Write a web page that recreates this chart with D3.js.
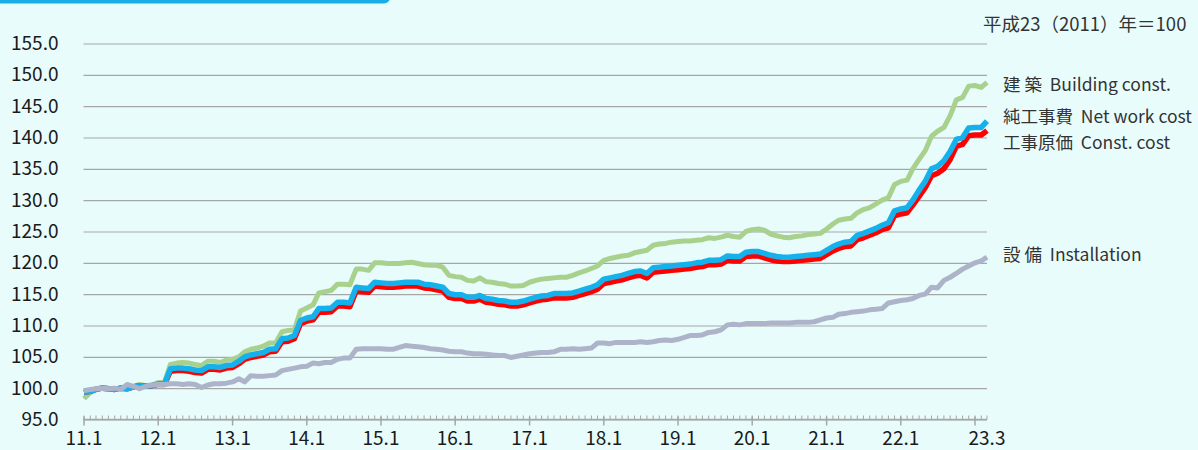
<!DOCTYPE html>
<html>
<head>
<meta charset="utf-8">
<script src="https://cdn.jsdelivr.net/npm/d3@7"></script>
<style>
  body { margin: 0; background: #e8fcfc; }
  svg { display: block; }
  text { font-family: "Noto Sans CJK JP", "Noto Sans", sans-serif; }
</style>
</head>
<body>
<div id="chart-area"></div>
<script>
// monthly index, 2011.1 - 2023.3 (平成23（2011）年＝100)
var startMonth = new Date(2011, 0, 1);

var building = [ // 建築
  98.3, 99.3, 99.9, 100.1, 100.0, 99.8, 100.1, 99.9, 100.3, 100.6, 100.4, 100.5,
  100.9, 100.9, 103.8, 104.0, 104.1, 104.0, 103.8, 103.6, 104.3, 104.3, 104.1, 104.5,
  104.6, 105.0, 105.8, 106.2, 106.4, 106.7, 107.2, 107.2, 109.0, 109.2, 109.3, 112.3,
  112.8, 113.3, 115.2, 115.4, 115.6, 116.6, 116.6, 116.5, 119.0, 119.0, 118.8, 120.0,
  120.0, 119.9, 119.9, 119.9, 120.0, 120.1, 119.9, 119.7, 119.6, 119.6, 119.3, 118.0,
  117.8, 117.7, 117.2, 117.1, 117.6, 117.0, 116.9, 116.7, 116.6, 116.3, 116.3, 116.4,
  116.9, 117.2, 117.4, 117.5, 117.6, 117.7, 117.7, 118.0, 118.4, 118.7, 119.1, 119.5,
  120.4, 120.7, 120.9, 121.1, 121.2, 121.6, 121.8, 122.0, 122.8, 123.0, 123.1, 123.3,
  123.4, 123.5, 123.5, 123.6, 123.7, 124.0, 123.9, 124.1, 124.4, 124.2, 124.1, 125.0,
  125.3, 125.4, 125.2, 124.6, 124.3, 124.1, 124.0, 124.2, 124.3, 124.5, 124.6, 124.7,
  125.4, 126.2, 126.8, 127.0, 127.1, 128.0, 128.5, 128.8, 129.4, 130.0, 130.4, 132.5,
  133.0, 133.2, 135.0, 136.5, 137.9, 140.2, 141.0, 141.6, 143.5, 146.0, 146.4, 148.2,
  148.3, 148.0, 148.8
];

var netWork = [ // 純工事費
  99.3, 99.5, 99.8, 100.0, 99.9, 99.8, 100.0, 99.9, 100.2, 100.4, 100.3, 100.4,
  100.7, 100.7, 103.1, 103.2, 103.2, 103.1, 102.9, 102.8, 103.4, 103.4, 103.3, 103.6,
  103.7, 104.3, 105.0, 105.3, 105.5, 105.7, 106.2, 106.3, 107.9, 108.0, 108.4, 110.8,
  111.2, 111.4, 112.7, 112.7, 112.8, 113.7, 113.7, 113.6, 116.1, 116.0, 115.9, 116.9,
  116.8, 116.7, 116.7, 116.8, 116.9, 116.9, 116.9, 116.6, 116.5, 116.3, 116.1, 115.1,
  114.9, 114.9, 114.5, 114.5, 114.8, 114.3, 114.2, 114.0, 113.9, 113.7, 113.7, 113.9,
  114.2, 114.5, 114.7, 114.8, 115.1, 115.1, 115.1, 115.2, 115.5, 115.8, 116.1, 116.5,
  117.4, 117.6, 117.8, 118.0, 118.3, 118.6, 118.7, 118.3, 119.2, 119.3, 119.4, 119.5,
  119.6, 119.7, 119.8, 120.0, 120.1, 120.4, 120.4, 120.5, 121.1, 121.0, 121.0, 121.7,
  121.8, 121.8, 121.5, 121.2, 121.0, 120.9, 120.9, 121.0, 121.1, 121.2, 121.3, 121.4,
  122.0, 122.6, 123.0, 123.3, 123.4, 124.4, 124.7, 125.1, 125.5, 126.0, 126.4, 128.3,
  128.6, 128.8, 130.0, 131.6, 133.0, 135.0, 135.4, 136.3, 137.8, 139.7, 140.0, 141.5,
  141.6, 141.6, 142.6
];

var constCost = [ // 工事原価
  99.3, 99.5, 99.8, 100.0, 99.9, 99.8, 100.0, 99.9, 100.2, 100.4, 100.3, 100.4,
  100.6, 100.6, 102.7, 102.8, 102.8, 102.7, 102.5, 102.4, 103.0, 103.0, 102.9, 103.2,
  103.3, 103.9, 104.6, 104.9, 105.1, 105.3, 105.8, 105.9, 107.4, 107.5, 107.9, 110.3,
  110.7, 110.9, 112.1, 112.1, 112.2, 113.1, 113.1, 113.0, 115.5, 115.4, 115.3, 116.3,
  116.2, 116.1, 116.1, 116.2, 116.3, 116.3, 116.3, 116.0, 115.9, 115.7, 115.5, 114.5,
  114.3, 114.3, 113.9, 113.9, 114.2, 113.7, 113.6, 113.4, 113.3, 113.1, 113.1, 113.3,
  113.6, 113.9, 114.1, 114.2, 114.4, 114.4, 114.4, 114.5, 114.8, 115.1, 115.4, 115.8,
  116.7, 116.9, 117.1, 117.3, 117.6, 117.9, 118.0, 117.6, 118.5, 118.6, 118.7, 118.8,
  118.9, 119.0, 119.1, 119.3, 119.4, 119.7, 119.7, 119.8, 120.4, 120.3, 120.3, 121.0,
  121.1, 121.1, 120.8, 120.5, 120.3, 120.2, 120.2, 120.3, 120.4, 120.5, 120.6, 120.7,
  121.3, 121.9, 122.3, 122.6, 122.7, 123.7, 124.0, 124.4, 124.8, 125.3, 125.6, 127.5,
  127.8, 128.0, 129.2, 130.6, 132.0, 133.9, 134.3, 135.0, 136.5, 138.6, 138.9, 140.3,
  140.4, 140.4, 141.1
];

var installation = [ // 設備
  99.6, 99.8, 99.9, 100.0, 99.9, 100.0, 99.8, 100.6, 100.3, 99.9, 100.3, 100.5,
  100.6, 100.6, 100.7, 100.7, 100.6, 100.7, 100.6, 100.1, 100.5, 100.7, 100.7, 100.8,
  101.0, 101.5, 101.0, 102.0, 101.9, 101.9, 102.0, 102.1, 102.8, 103.0, 103.2, 103.4,
  103.5, 104.0, 103.9, 104.1, 104.1, 104.6, 104.8, 104.8, 106.2, 106.3, 106.3, 106.3,
  106.3, 106.2, 106.2, 106.5, 106.8, 106.7, 106.6, 106.5, 106.3, 106.2, 106.1, 105.9,
  105.8, 105.8, 105.6, 105.5, 105.5, 105.4, 105.3, 105.2, 105.2, 104.9, 105.1, 105.3,
  105.5, 105.6, 105.7, 105.7, 105.8, 106.2, 106.2, 106.3, 106.2, 106.3, 106.4, 107.2,
  107.2, 107.1, 107.3, 107.3, 107.3, 107.3, 107.4, 107.3, 107.4, 107.6, 107.7, 107.6,
  107.8, 108.1, 108.4, 108.4, 108.5, 108.9, 109.0, 109.3, 110.1, 110.2, 110.1, 110.3,
  110.3, 110.3, 110.3, 110.4, 110.4, 110.4, 110.4, 110.5, 110.5, 110.5, 110.6, 110.9,
  111.2, 111.3, 111.8, 111.9, 112.1, 112.2, 112.3, 112.5, 112.6, 112.7, 113.6, 113.8,
  114.0, 114.1, 114.3, 114.8, 115.0, 116.1, 116.0, 117.2, 117.7, 118.3, 119.0, 119.5,
  120.0, 120.3, 120.9
];

var yTicks = [95, 100, 105, 110, 115, 120, 125, 130, 135, 140, 145, 150, 155];
var xLabels = ["11.1", "12.1", "13.1", "14.1", "15.1", "16.1", "17.1", "18.1", "19.1", "20.1", "21.1", "22.1", "23.3"];
var xLabelMonths = [0, 12, 24, 36, 48, 60, 72, 84, 96, 108, 120, 132, 146];
var seriesNames = ["建 築  Building const.", "純工事費  Net work cost", "工事原価  Const. cost", "設 備  Installation"];
var baseNote = "平成23（2011）年＝100";

var width = 1198, height = 450;
var svg = d3.select("#chart-area").append("svg")
    .attr("width", width)
    .attr("height", height);

svg.append("rect").attr("width", width).attr("height", height).attr("fill", "#e8fcfc");

// blue tab at the top
svg.append("rect")
    .attr("x", -20).attr("y", -20)
    .attr("width", 410).attr("height", 23.5)
    .attr("rx", 6)
    .attr("fill", "#1aaee6");

function monthDate(i) { return d3.timeMonth.offset(startMonth, i); }

var x = d3.scaleTime()
    .domain([monthDate(0), monthDate(146)])
    .range([84, 987]);
var y = d3.scaleLinear().domain([95, 155]).range([419.5, 43.5]);

// grid + y labels
var yAxis = d3.axisLeft(y)
    .tickValues(yTicks)
    .tickSize(-(987 - 83.5))
    .tickPadding(25)
    .tickFormat(d3.format(".1f"));

var yAxisGroup = svg.append("g")
    .attr("transform", "translate(83.5, 0)")
    .call(yAxis);
yAxisGroup.select(".domain").remove();
yAxisGroup.selectAll("line").attr("stroke", "#a6a6a6").attr("stroke-width", 1.2);
yAxisGroup.selectAll("text")
    .attr("font-size", "19px")
    .attr("fill", "#1a1a1a")
    .attr("font-family", "'Noto Sans CJK JP', sans-serif");

// x axis: monthly minor ticks, yearly major ticks
var allMonths = d3.range(0, 147).map(monthDate);
var years = d3.range(0, 147, 12).map(monthDate);

var xAxisGroup = svg.append("g").attr("transform", "translate(0, 419.5)");
xAxisGroup.append("line")
    .attr("x1", 83.5).attr("x2", 987)
    .attr("stroke", "#a6a6a6").attr("stroke-width", 1.5);
xAxisGroup.selectAll(".minor").data(allMonths).join("line")
    .attr("class", "minor")
    .attr("x1", function(d) { return x(d); })
    .attr("x2", function(d) { return x(d); })
    .attr("y1", -4).attr("y2", 0)
    .attr("stroke", "#a6a6a6").attr("stroke-width", 1);
xAxisGroup.selectAll(".major").data(years).join("line")
    .attr("class", "major")
    .attr("x1", function(d) { return x(d); })
    .attr("x2", function(d) { return x(d); })
    .attr("y1", -3).attr("y2", 6)
    .attr("stroke", "#a6a6a6").attr("stroke-width", 1.5);

svg.selectAll(".xlabel").data(xLabels).join("text")
    .attr("class", "xlabel")
    .attr("x", function(d, i) { return x(monthDate(xLabelMonths[i])); })
    .attr("y", 445)
    .attr("text-anchor", "middle")
    .attr("font-size", "19px")
    .attr("fill", "#1a1a1a")
    .text(function(d) { return d; });

// lines
var line = d3.line()
    .x(function(d, i) { return x(monthDate(i)); })
    .y(function(d) { return y(d); });

var series = [
    {values: building, color: "#a9d18e", w: 5},
    {values: constCost, color: "#ff0000", w: 5.5},
    {values: netWork, color: "#14b1ec", w: 5.5},
    {values: installation, color: "#adb4c9", w: 5}
];

svg.selectAll(".series").data(series).join("path")
    .attr("class", "series")
    .attr("d", function(d) { return line(d.values); })
    .attr("fill", "none")
    .attr("stroke", function(d) { return d.color; })
    .attr("stroke-width", function(d) { return d.w; })
    .attr("stroke-linejoin", "round");

// labels on the right
svg.append("text")
    .attr("x", 983).attr("y", 31)
    .attr("font-size", "18.5px")
    .attr("fill", "#333")
    .text(baseNote);

var labelY = [91, 123, 149, 261];
svg.selectAll(".slabel").data(seriesNames).join("text")
    .attr("class", "slabel")
    .attr("x", 1003)
    .attr("y", function(d, i) { return labelY[i]; })
    .attr("font-size", "17.5px")
    .attr("fill", "#333")
    .style("white-space", "pre")
    .text(function(d) { return d; });
</script>
</body>
</html>
